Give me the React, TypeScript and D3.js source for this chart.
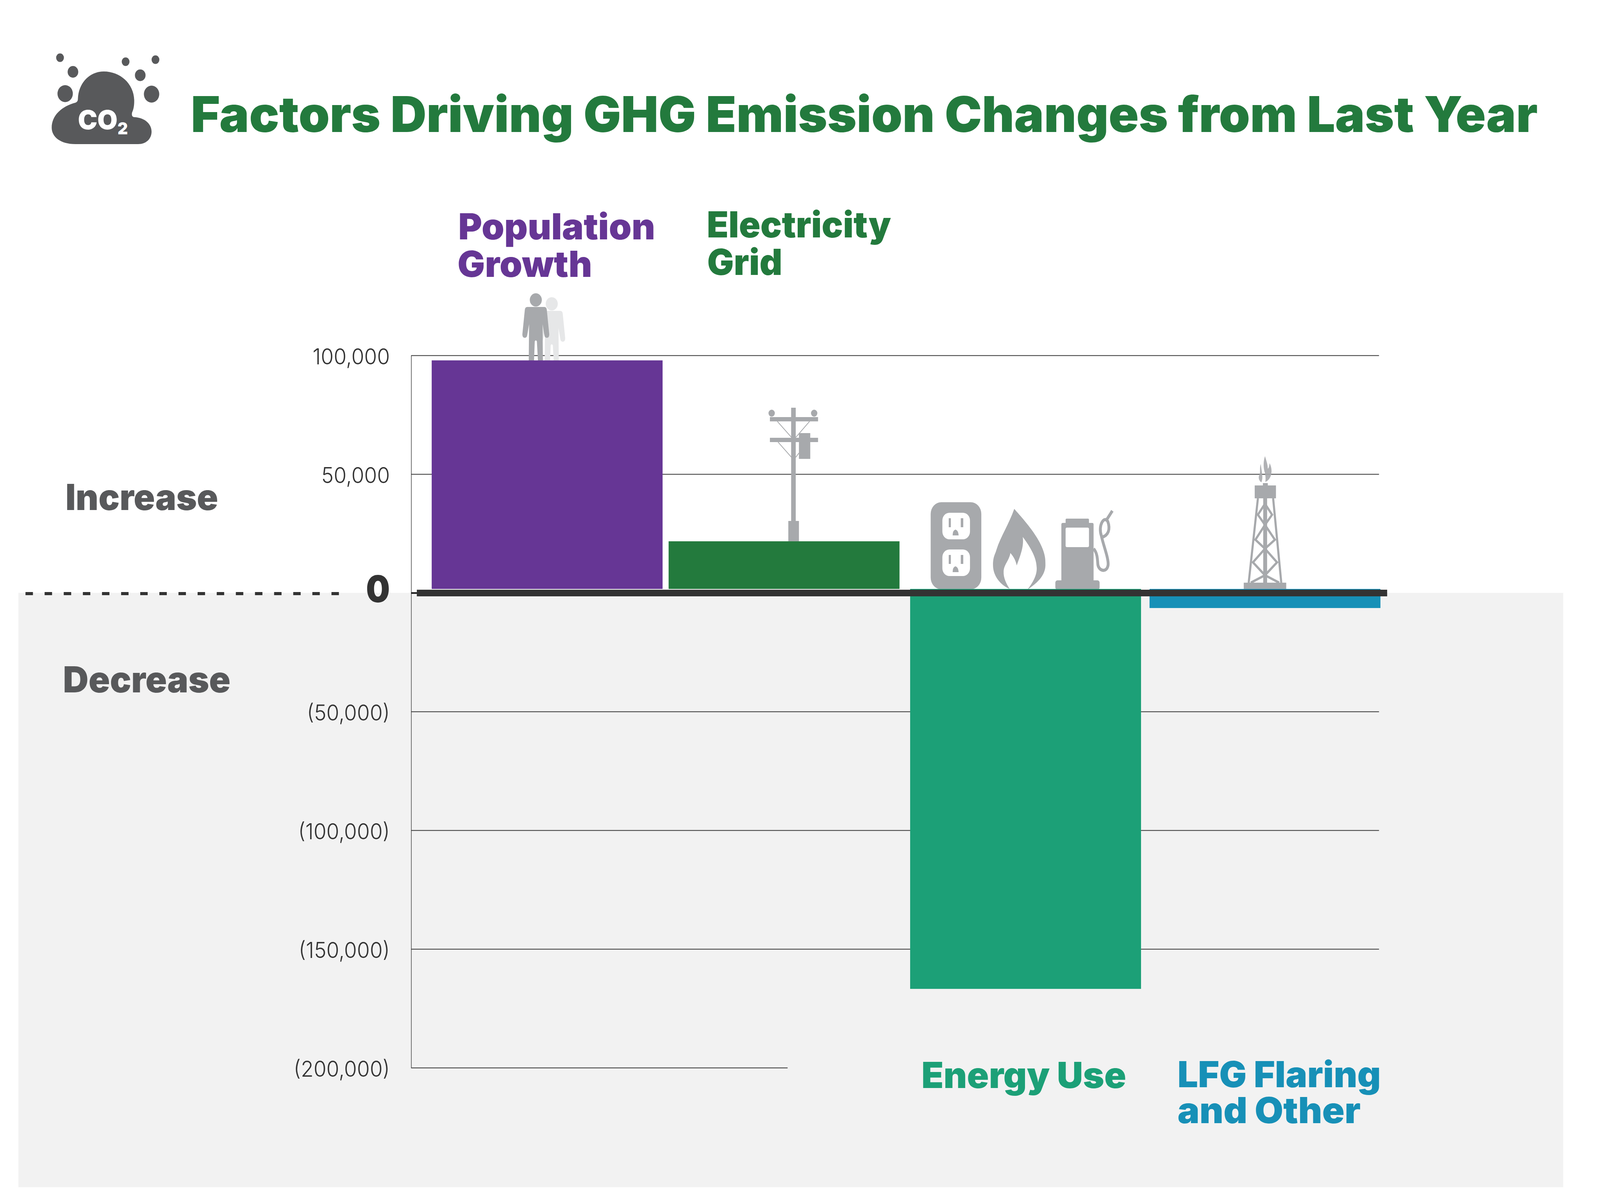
import * as d3 from "d3";
import { useEffect, useRef } from "react";

const categories = ["Population Growth", "Electricity Grid", "Energy Use", "LFG Flaring and Other"];
const labelLines = [["Population", "Growth"], ["Electricity", "Grid"], ["Energy Use"], ["LFG Flaring", "and Other"]];
const values = [97900, 21700, -166800, -6400];
const barColors = ["#663695", "#237a3d", "#1ca077", "#1790b7"];
const tickValues = [100000, 50000, 0, -50000, -100000, -150000, -200000];

const title = "Factors Driving GHG Emission Changes from Last Year";
const sideLabels = ["Increase", "Decrease"];

const W = 4518;
const H = 3083;
const FONT = "Inter, 'Noto Sans', sans-serif";
const GREY = "#a7a9ac";
const DARK = "#58595b";

const axisX = 1161;
const gridRight = 3894;
const barWidth = 652;
// the bars sit on top of the thick zero bar, not on the value itself
const barBase = 10;

const yScale = d3.scaleLinear([-200000, 100000], [2734, 910]);
const xLeft = d3.scaleOrdinal<string, number>(categories, [1219, 1888, 2570, 3246]);

// x, baseline and width of every label line, same order as labelLines
const labelLayout = [
  [[1294, 613, 556], [1292, 709, 380]],
  [[1996, 608, 520], [1997, 704, 212]],
  [[2602, 2786, 578]],
  [[3325, 2784, 574], [3325, 2876, 517]],
];

const fmt = d3.format(",");
const tickFormat = (d: any) => (d < 0 ? `(${fmt(-d)})` : fmt(d));

// text squeezed to the width it has in the picture, the original font is not installed
const Fit = ({ x, y, w, size, fill, children, weight = 900 }: any) => (
  <text
    x={x}
    y={y}
    fill={fill}
    fontSize={size}
    fontWeight={weight}
    fontFamily={FONT}
    textLength={w}
    lengthAdjust="spacingAndGlyphs"
  >
    {children}
  </text>
);

const BarLabel = ({ lines, layout, fill }: any) => (
  <text fill={fill} fontSize={92} fontWeight={900} fontFamily={FONT}>
    {lines.map((line: string, i: number) => (
      <tspan key={line} x={layout[i][0]} y={layout[i][1]} textLength={layout[i][2]} lengthAdjust="spacingAndGlyphs">
        {line}
      </tspan>
    ))}
  </text>
);

const personPath =
  "M-24,0 Q-30,0 -31,7 L-38,70 Q-38,79 -31,79 Q-25,79 -24,71 L-19,44 L-20,137 L-5,137 L-3,88 Q0,83 3,88 L6,137 L20,137 L19,44 L24,71 Q25,79 31,79 Q38,79 38,70 L31,7 Q30,0 24,0 Z";

const Person = ({ x, y, fill }: any) => (
  <g transform={`translate(${x},${y})`} fill={fill}>
    <ellipse cx={0} cy={-18} rx={17} ry={17} />
    <path d={personPath} />
  </g>
);

const People = () => (
  <g>
    <Person x={1558} y={796} fill="#e6e7e8" />
    <Person x={1513} y={786} fill={GREY} />
  </g>
);

const Pole = () => (
  <g fill={GREY}>
    <rect x={2234} y={1044} width={13} height={300} />
    <rect x={2226} y={1334} width={30} height={52} />
    <rect x={2174} y={1068} width={136} height={11} />
    <rect x={2174} y={1121} width={136} height={11} />
    <ellipse cx={2179} cy={1058} rx={9} ry={9} />
    <ellipse cx={2299} cy={1058} rx={9} ry={9} />
    <rect x={2256} y={1109} width={32} height={66} />
    <path
      d="M2195,1079 L2235,1120 M2286,1079 L2247,1120 M2197,1132 L2235,1171 M2256,1160 L2247,1171"
      stroke={GREY}
      strokeWidth={2}
      fill="none"
    />
  </g>
);

const Outlet = () => (
  <g>
    <rect x={2628} y={1286} width={143} height={223} rx={30} fill={GREY} />
    {[0, 94].map((dy) => (
      <g key={dy} transform={`translate(0,${dy})`}>
        <rect x={2661} y={1313} width={78} height={68} rx={20} fill="#fff" />
        <rect x={2679} y={1327} width={6} height={23} fill={GREY} />
        <rect x={2713} y={1327} width={7} height={23} fill={GREY} />
        <path d="M2690,1371 Q2690,1358 2698,1356 Q2706,1358 2707,1371 Z" fill={GREY} />
      </g>
    ))}
  </g>
);

const Flame = () => (
  <path
    fill={GREY}
    d="M2864,1303 C2900,1340 2955,1395 2952,1443 C2954,1475 2925,1495 2901,1510 C2918,1490 2930,1470 2927,1450 C2926,1425 2905,1395 2888,1375 C2892,1400 2880,1425 2871,1448 C2868,1435 2862,1425 2853,1416 C2850,1435 2835,1445 2834,1463 C2833,1480 2842,1495 2851,1508 C2825,1498 2804,1475 2804,1447 C2804,1425 2810,1420 2814,1407 C2825,1375 2850,1340 2864,1303 Z"
  />
);

const Pump = () => (
  <g>
    <rect x={2980} y={1486} width={125} height={24} rx={6} fill={GREY} />
    <rect x={2997} y={1339} width={91} height={150} rx={4} fill={GREY} />
    <rect x={3009} y={1328} width={66} height={14} rx={3} fill={GREY} />
    <rect x={3009} y={1351} width={66} height={50} rx={4} fill="#fff" />
    <path
      d="M3088,1405 C3098,1415 3099,1430 3100,1445 C3102,1462 3125,1468 3129,1447 C3131,1430 3115,1395 3110,1372 C3100,1345 3118,1320 3128,1335 C3136,1355 3130,1372 3110,1376 M3122,1335 L3141,1308"
      fill="none"
      stroke={GREY}
      strokeWidth={8}
    />
  </g>
);

const Derrick = () => (
  <g>
    <path
      fill={GREY}
      opacity={0.9}
      d="M3572,1168 C3566,1185 3568,1200 3572,1212 C3574,1222 3574,1228 3573,1234 C3590,1228 3596,1205 3585,1186 C3584,1195 3582,1200 3580,1200 C3580,1190 3576,1180 3572,1168 Z M3560,1188 C3556,1200 3560,1208 3556,1216 C3552,1224 3556,1232 3562,1235 C3568,1222 3562,1205 3560,1188 Z"
    />
    <g fill={GREY}>
      <rect x={3566} y={1237} width={14} height={8} />
      <rect x={3543} y={1243} width={60} height={33} />
      <rect x={3512} y={1492} width={120} height={17} />
      <rect x={3567} y={1276} width={11} height={216} />
    </g>
    <path
      fill="none"
      stroke={GREY}
      strokeWidth={6}
      d="M3552,1276 L3526,1492 M3595,1276 L3618,1492 M3572,1290 L3552,1318 L3572,1344 L3545,1382 L3572,1405 L3538,1440 L3572,1473 L3532,1492 M3572,1290 L3592,1318 L3572,1344 L3600,1382 L3572,1405 L3606,1440 L3572,1473 L3612,1492"
    />
  </g>
);

const Co2Icon = () => {
  const dots = [
    [169.5, 147.7, 11],
    [206, 184, 15],
    [184, 239.7, 21.7],
    [354.7, 158, 11],
    [439, 152.7, 11],
    [396, 192.7, 15],
    [428, 241, 21.7],
  ];
  return (
    <g fill={DARK}>
      {dots.map(([cx, cy, r]) => (
        <circle key={cx} cx={cx} cy={cy} r={r} />
      ))}
      <path d="M220,253 C222,210 255,183 293,183 C340,183 379,215 379,258 C379,272 377,280 373,288 C371,296 374,300 381,300 C410,302 428,318 428,337 C428,356 412,369 390,369 L213,369 C170,369 146,350 146,327 C146,295 175,272 213,263 C218,261 220,258 220,253 Z" />
      <Fit x={220} y={331} w={112} size={68} fill="#fff">
        CO
      </Fit>
      <Fit x={332} y={344} w={29} size={43} fill="#fff">
        2
      </Fit>
    </g>
  );
};

const YAxis = () => {
  const ref = useRef<SVGGElement | null>(null);

  useEffect(() => {
    if (!ref.current) return;
    const g = d3.select(ref.current);
    g.call(
      d3
        .axisLeft(yScale)
        .tickValues(tickValues)
        .tickFormat(tickFormat)
        .tickSizeInner(-(gridRight - axisX))
        .tickSizeOuter(0)
        .tickPadding(60)
    );
    g.select(".domain").attr("stroke", "#666").attr("stroke-width", 2);
    g.selectAll(".tick line").attr("stroke", "#333").attr("stroke-width", 2);
    g.selectAll<SVGTextElement, number>(".tick text")
      .attr("dy", 22)
      .attr("fill", "#333")
      .attr("font-size", 56)
      .attr("font-weight", 300)
      .attr("font-family", FONT)
      .attr("lengthAdjust", "spacingAndGlyphs")
      .attr("textLength", function () {
        return this.getComputedTextLength() * 1.05;
      });
    const ticks = g.selectAll<SVGGElement, number>(".tick");
    // zero gets the heavy label, lowest gridline stops halfway
    const zero = ticks.filter((d) => d === 0);
    zero.select("line").attr("stroke-width", 4).attr("stroke", "#111");
    zero
      .select("text")
      .attr("dy", 23)
      .attr("font-size", 95)
      .attr("font-weight", 900)
      .attr("textLength", null);
    ticks.filter((d) => d === -200000).select("line").attr("x2", 2224 - axisX);
  }, []);

  return <g ref={ref} transform={`translate(${axisX},0)`} />;
};

export default function App() {
  const zeroY = yScale(0);
  return (
    // fills the window: the browser caps it at 4096 wide, a fixed 4518 svg loses its right edge
    <svg
      viewBox={`0 0 ${W} ${H}`}
      preserveAspectRatio="none"
      style={{ position: "fixed", left: 0, top: 0, width: "100vw", height: "100vh", background: "#fff" }}
    >
      <rect x={52} y={zeroY} width={4362} height={3040 - zeroY} fill="#f2f2f2" />

      <Co2Icon />
      <Fit x={539} y={338} w={3803} size={126} fill="#237a3d">
        {title}
      </Fit>

      <line x1={72} x2={960} y1={zeroY + 2} y2={zeroY + 2} stroke="#333" strokeWidth={8} strokeDasharray="21 33" />

      <Fit x={185} y={1306} w={431} size={92} fill={DARK}>
        {sideLabels[0]}
      </Fit>
      <Fit x={178} y={1773} w={473} size={92} fill={DARK}>
        {sideLabels[1]}
      </Fit>

      <YAxis />

      <People />
      <Pole />
      <Outlet />
      <Flame />
      <Pump />
      <Derrick />

      {categories.map((c, i) => {
        const base = zeroY - barBase;
        const top = Math.min(yScale(values[i]), base);
        const bottom = Math.max(yScale(values[i]), base);
        return <rect key={c} x={xLeft(c)} y={top} width={barWidth} height={bottom - top} fill={barColors[i]} />;
      })}

      <rect x={1177} y={1510} width={2740} height={17} fill="#333" />

      {categories.map((c, i) => (
        <BarLabel key={c} lines={labelLines[i]} layout={labelLayout[i]} fill={barColors[i]} />
      ))}
    </svg>
  );
}
